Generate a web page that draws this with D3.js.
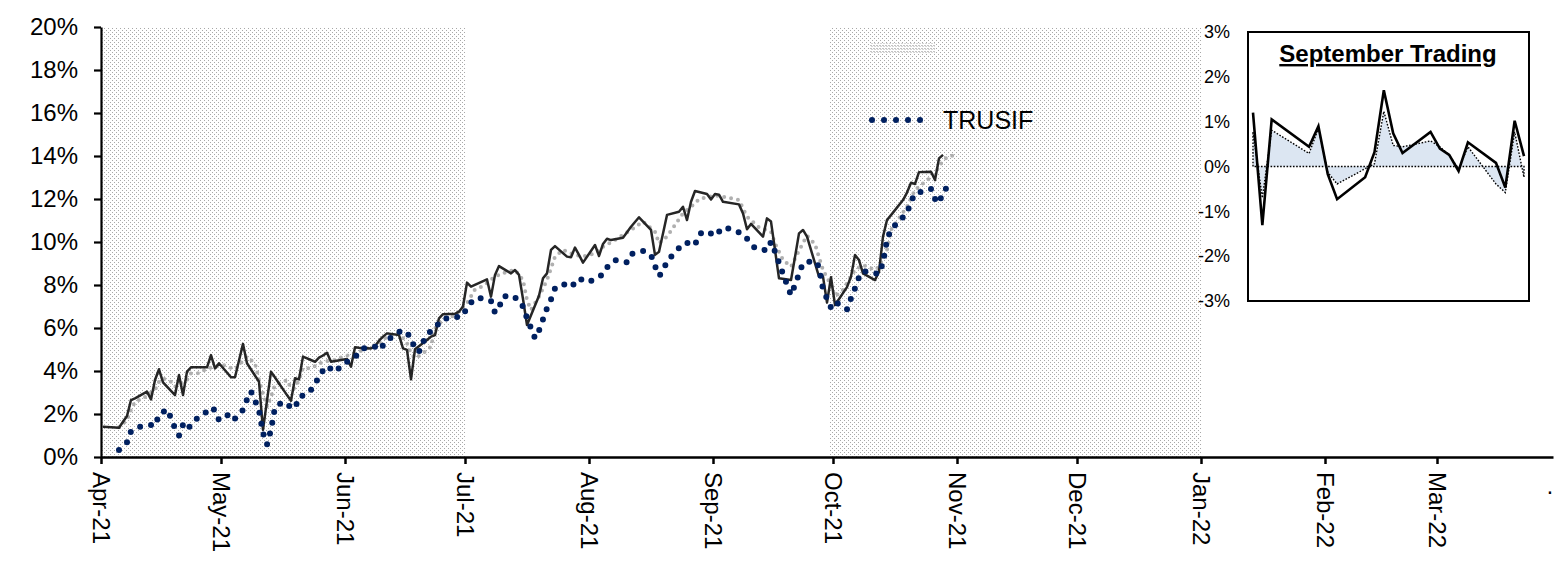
<!DOCTYPE html>
<html lang="en">
<head>
<meta charset="UTF-8">
<title>TRUSIF</title>
<style>
    body { margin: 0; background: #fff; }
    svg { display: block; font-family: "Liberation Sans", Arial, sans-serif; }
    .axis path, .axis line { stroke: #000; }
    .axis text { fill: #000; }
</style>
</head>
<body>
<svg width="1567" height="562"></svg>
<script src="https://d3js.org/d3.v7.min.js"></script>
<script>
// cumulative return, solid dark line (%)
var fundSeries = [
    ["2021-04-01",1.41],["2021-04-05",1.36],["2021-04-06",1.64],["2021-04-07",1.91],["2021-04-08",2.65],
    ["2021-04-09",2.73],["2021-04-12",3.04],["2021-04-13",2.68],["2021-04-14",3.58],["2021-04-15",4.08],
    ["2021-04-16",3.47],["2021-04-19",2.88],["2021-04-20",3.81],["2021-04-21",2.88],["2021-04-22",3.97],
    ["2021-04-23",4.17],["2021-04-26",4.17],["2021-04-27",4.17],["2021-04-28",4.74],["2021-04-29",4.12],
    ["2021-04-30",4.36],["2021-05-03",3.71],["2021-05-04",3.71],["2021-05-05",4.49],["2021-05-06",5.26],
    ["2021-05-07",4.36],["2021-05-10",3.50],["2021-05-11",1.26],["2021-05-12",2.62],["2021-05-13",3.97],
    ["2021-05-14",3.70],["2021-05-17",2.88],["2021-05-18",2.62],["2021-05-19",3.66],["2021-05-20",3.61],
    ["2021-05-21",4.67],["2021-05-24",4.43],["2021-05-25",4.62],["2021-05-26",4.72],["2021-05-27",4.85],
    ["2021-05-28",4.43],["2021-06-01",4.56],["2021-06-02",4.20],["2021-06-03",5.10],["2021-06-04",5.08],
    ["2021-06-07",5.05],["2021-06-08",5.15],["2021-06-09",5.41],["2021-06-10",5.60],["2021-06-11",5.75],
    ["2021-06-14",5.67],["2021-06-15",5.05],["2021-06-16",4.98],["2021-06-17",3.61],["2021-06-18",5.01],
    ["2021-06-21",5.44],["2021-06-22",5.60],["2021-06-23",5.67],["2021-06-24",6.45],["2021-06-25",6.64],
    ["2021-06-28",6.66],["2021-06-29",6.76],["2021-06-30",7.00],["2021-07-01",8.11],["2021-07-02",7.92],
    ["2021-07-06",8.26],["2021-07-07",7.46],["2021-07-08",8.47],["2021-07-09",8.88],["2021-07-12",8.54],
    ["2021-07-13",8.70],["2021-07-14",8.47],["2021-07-15",7.35],["2021-07-16",6.14],["2021-07-19",7.50],
    ["2021-07-20",8.31],["2021-07-21",8.54],["2021-07-22",9.63],["2021-07-23",9.81],["2021-07-26",9.32],
    ["2021-07-27",9.29],["2021-07-28",9.74],["2021-07-29",9.40],["2021-07-30",9.04],["2021-08-02",9.86],
    ["2021-08-03",9.35],["2021-08-04",9.91],["2021-08-05",10.15],["2021-08-06",10.09],["2021-08-09",10.20],
    ["2021-08-10",10.45],["2021-08-11",10.71],["2021-08-12",10.93],["2021-08-13",11.15],["2021-08-16",10.56],
    ["2021-08-17",9.40],["2021-08-18",9.55],["2021-08-19",10.40],["2021-08-20",11.26],["2021-08-23",11.41],
    ["2021-08-24",11.64],["2021-08-25",11.02],["2021-08-26",11.87],["2021-08-27",12.37],["2021-08-30",12.23],
    ["2021-08-31",11.98],["2021-09-01",12.23],["2021-09-02",12.20],["2021-09-03",11.87],["2021-09-07",11.75],
    ["2021-09-08",11.33],["2021-09-09",10.59],["2021-09-10",10.84],["2021-09-13",10.25],["2021-09-14",11.10],
    ["2021-09-15",10.95],["2021-09-16",9.63],["2021-09-17",8.31],["2021-09-20",8.23],["2021-09-21",9.30],
    ["2021-09-22",10.40],["2021-09-23",10.56],["2021-09-24",10.25],["2021-09-27",8.39],["2021-09-28",8.39],
    ["2021-09-29",7.18],["2021-09-30",8.36],["2021-10-01",7.07],["2021-10-04",7.90],["2021-10-05",8.39],
    ["2021-10-06",9.40],["2021-10-07",9.16],["2021-10-08",8.54],["2021-10-11",8.23],["2021-10-12",8.62],
    ["2021-10-13",10.25],["2021-10-14",11.02],["2021-10-15",11.25],["2021-10-18",11.95],["2021-10-19",12.30],
    ["2021-10-20",12.76],["2021-10-21",12.70],["2021-10-22",13.25],["2021-10-25",13.27],["2021-10-26",12.88],
    ["2021-10-27",13.89],["2021-10-28",14.05]
];

// light grey dotted series (%)
var indexSeries = [
    ["2021-04-05",1.38],["2021-04-07",1.72],["2021-04-08",2.19],["2021-04-09",2.57],["2021-04-11",2.73],
    ["2021-04-14",3.12],["2021-04-15",3.50],["2021-04-16",3.66],["2021-04-18",3.50],["2021-04-19",3.27],
    ["2021-04-22",3.58],["2021-04-23",3.89],["2021-04-25",3.89],["2021-04-27",4.12],["2021-04-29",4.20],
    ["2021-05-01",4.28],["2021-05-04",4.08],["2021-05-07",4.67],["2021-05-09",4.36],["2021-05-10",3.58],
    ["2021-05-11",2.96],["2021-05-12",2.34],["2021-05-13",2.81],["2021-05-14",3.35],["2021-05-17",3.58],
    ["2021-05-18",3.19],["2021-05-19",3.20],["2021-05-20",3.58],["2021-05-21",4.14],["2021-05-23",4.12],
    ["2021-05-26",4.43],["2021-05-29",4.51],["2021-05-31",4.67],["2021-06-03",4.82],["2021-06-06",5.05],
    ["2021-06-09",5.29],["2021-06-11",5.60],["2021-06-14",5.75],["2021-06-16",5.29],["2021-06-17",4.82],
    ["2021-06-18",4.59],["2021-06-20",4.82],["2021-06-22",5.13],["2021-06-23",5.99],["2021-06-25",6.37],
    ["2021-06-28",6.60],["2021-07-01",7.15],["2021-07-03",7.80],["2021-07-05",7.95],["2021-07-08",8.39],
    ["2021-07-11",8.62],["2021-07-13",8.70],["2021-07-15",8.23],["2021-07-16",7.30],["2021-07-17",6.84],
    ["2021-07-19",7.46],["2021-07-21",8.23],["2021-07-23",9.32],["2021-07-25",9.63],["2021-07-28",9.40],
    ["2021-07-30",9.32],["2021-08-02",9.47],["2021-08-04",9.78],["2021-08-07",10.09],["2021-08-11",10.56],
    ["2021-08-14",10.95],["2021-08-17",10.48],["2021-08-18",9.94],["2021-08-20",10.25],["2021-08-22",10.79],
    ["2021-08-24",11.33],["2021-08-27",11.80],["2021-08-28",12.00],["2021-09-01",12.17],["2021-09-05",12.03],
    ["2021-09-07",11.95],["2021-09-09",11.18],["2021-09-12",10.68],["2021-09-15",10.48],["2021-09-16",9.94],
    ["2021-09-18",9.16],["2021-09-20",8.85],["2021-09-22",9.60],["2021-09-24",10.30],["2021-09-26",9.90],
    ["2021-09-28",8.70],["2021-09-30",8.00],["2021-10-01",7.46],["2021-10-03",7.77],["2021-10-06",8.70],
    ["2021-10-08",8.93],["2021-10-11",8.70],["2021-10-12",8.85],["2021-10-14",9.63],["2021-10-15",10.56],
    ["2021-10-17",11.10],["2021-10-19",11.64],["2021-10-21",12.42],["2021-10-24",12.88],["2021-10-26",13.12],
    ["2021-10-27",13.55],["2021-10-29",13.95],["2021-10-31",14.05]
];

// TRUSIF, navy dots (%)
var trusifSeries = [
    ["2021-04-05",0.33],["2021-04-07",0.68],["2021-04-08",1.19],["2021-04-10",1.40],["2021-04-13",1.49],
    ["2021-04-14",1.44],["2021-04-15",1.96],["2021-04-17",2.22],["2021-04-18",1.81],["2021-04-19",1.33],
    ["2021-04-20",0.99],["2021-04-21",1.50],["2021-04-22",1.26],["2021-04-24",1.73],["2021-04-26",1.95],
    ["2021-04-28",2.31],["2021-04-29",2.17],["2021-04-30",1.71],["2021-05-03",2.04],["2021-05-04",1.78],
    ["2021-05-06",2.19],["2021-05-07",2.67],["2021-05-08",3.05],["2021-05-09",2.63],["2021-05-10",2.17],
    ["2021-05-11",1.12],["2021-05-12",0.58],["2021-05-13",1.26],["2021-05-14",2.31],["2021-05-16",2.57],
    ["2021-05-18",2.32],["2021-05-19",2.26],["2021-05-20",2.79],["2021-05-22",2.92],["2021-05-24",3.33],
    ["2021-05-25",3.79],["2021-05-27",4.23],["2021-05-29",3.95],["2021-05-31",4.32],["2021-06-03",4.65],
    ["2021-06-05",5.05],["2021-06-08",5.13],["2021-06-09",4.97],["2021-06-11",5.40],["2021-06-13",5.72],
    ["2021-06-15",5.90],["2021-06-17",5.58],["2021-06-18",4.98],["2021-06-19",4.90],["2021-06-20",5.35],
    ["2021-06-22",5.89],["2021-06-23",6.02],["2021-06-25",6.43],["2021-06-27",6.45],["2021-06-30",6.57],
    ["2021-07-01",6.97],["2021-07-03",7.38],["2021-07-05",7.38],["2021-07-07",7.26],["2021-07-08",6.71],
    ["2021-07-09",6.94],["2021-07-10",7.46],["2021-07-12",7.53],["2021-07-14",7.30],["2021-07-15",6.99],
    ["2021-07-16",6.45],["2021-07-17",5.99],["2021-07-18",5.52],["2021-07-19",5.88],["2021-07-20",6.40],
    ["2021-07-21",6.92],["2021-07-22",7.33],["2021-07-23",7.84],["2021-07-25",8.05],["2021-07-27",7.89],
    ["2021-07-29",8.31],["2021-07-31",8.12],["2021-08-02",8.26],["2021-08-04",8.50],["2021-08-05",8.82],
    ["2021-08-07",9.16],["2021-08-10",9.06],["2021-08-11",9.44],["2021-08-14",9.58],["2021-08-16",9.40],
    ["2021-08-17",8.88],["2021-08-18",8.42],["2021-08-19",8.62],["2021-08-20",9.13],["2021-08-22",9.50],
    ["2021-08-24",9.94],["2021-08-26",9.97],["2021-08-27",9.86],["2021-08-28",10.37],["2021-08-30",10.51],
    ["2021-09-01",10.28],["2021-09-03",10.68],["2021-09-05",10.60],["2021-09-08",10.37],["2021-09-10",9.94],
    ["2021-09-11",9.71],["2021-09-13",9.64],["2021-09-14",9.60],["2021-09-15",10.01],["2021-09-16",9.55],
    ["2021-09-17",9.04],["2021-09-18",8.51],["2021-09-19",8.02],["2021-09-20",7.53],["2021-09-21",8.00],
    ["2021-09-22",8.51],["2021-09-23",9.03],["2021-09-26",9.12],["2021-09-27",8.85],["2021-09-28",7.79],
    ["2021-09-30",6.95],["2021-10-01",7.22],["2021-10-03",6.99],["2021-10-04",6.87],["2021-10-05",7.38],
    ["2021-10-06",7.85],["2021-10-07",8.36],["2021-10-08",8.65],["2021-10-12",8.51],["2021-10-13",9.04],
    ["2021-10-14",10.09],["2021-10-15",10.60],["2021-10-17",10.95],["2021-10-19",11.36],["2021-10-20",11.87],
    ["2021-10-21",12.26],["2021-10-24",12.39],["2021-10-25",12.47],["2021-10-26",12.00],["2021-10-27",11.80],
    ["2021-10-28",12.31],["2021-10-29",12.54]
];

// inset: daily moves in September (%)
var sepDates = ["2021-09-01","2021-09-02","2021-09-03","2021-09-07","2021-09-08","2021-09-09","2021-09-10",
    "2021-09-13","2021-09-14","2021-09-15","2021-09-16","2021-09-17","2021-09-20","2021-09-21","2021-09-22",
    "2021-09-23","2021-09-24","2021-09-27","2021-09-28","2021-09-29","2021-09-30"];
var sepFund = [1.20,-1.31,1.05,0.44,0.90,-0.17,-0.73,-0.24,0.32,1.70,0.74,0.30,0.77,0.40,0.26,-0.10,0.54,0.08,-0.47,1.02,0.23];
var sepIndex = [0.77,-0.70,0.81,0.29,0.85,-0.13,-0.39,-0.05,0.06,1.23,0.47,0.44,0.57,0.44,0.25,-0.05,0.44,-0.39,-0.58,0.77,-0.24];

var yTicks = [0,2,4,6,8,10,12,14,16,18,20];
var insetTicks = [-3,-2,-1,0,1,2,3];
var monthDates = ["2021-04-01","2021-05-01","2021-06-01","2021-07-01","2021-08-01","2021-09-01",
    "2021-10-01","2021-11-01","2021-12-01","2022-01-01","2022-02-01","2022-03-01"];
var monthLabels = ["Apr-21","May-21","Jun-21","Jul-21","Aug-21","Sep-21","Oct-21","Nov-21","Dec-21",
    "Jan-22","Feb-22","Mar-22"];
var axisStart = "2021-04-01", axisEnd = "2022-03-30";
var shadeStarts = ["2021-04-01","2021-09-30"];
var shadeEnds = ["2021-07-01","2022-01-01"];

var svg = d3.select("svg");
var parse = d3.timeParse("%Y-%m-%d");
// points sit in the middle of their day slot
function mid(s) { return d3.timeHour.offset(parse(s), 12); }

var x = d3.scaleTime().domain([parse(axisStart), parse(axisEnd)]).range([101, 1553]);
var y = d3.scaleLinear().domain([0, 20]).range([457, 27]);

// dotted fill for the shaded quarters
var defs = svg.append("defs");
var pat = defs.append("pattern").attr("id", "dots")
    .attr("patternUnits", "userSpaceOnUse").attr("width", 4).attr("height", 4);
pat.append("rect").attr("width", 4).attr("height", 4).attr("fill", "#fff");
pat.append("rect").attr("x", 0).attr("y", 0).attr("width", 1).attr("height", 1).attr("fill", "#a8a8a8");
pat.append("rect").attr("x", 2).attr("y", 2).attr("width", 1).attr("height", 1).attr("fill", "#a8a8a8");

var pat2 = defs.append("pattern").attr("id", "faint")
    .attr("patternUnits", "userSpaceOnUse").attr("width", 3).attr("height", 3);
pat2.append("rect").attr("width", 3).attr("height", 3).attr("fill", "#fff");
pat2.append("rect").attr("width", 2).attr("height", 1).attr("fill", "#c4c4c4");
pat2.append("rect").attr("x", 1).attr("y", 1).attr("width", 2).attr("height", 1).attr("fill", "#d6d6d6");

svg.selectAll(".shade")
    .data(shadeStarts)
    .enter().append("rect")
    .attr("class", "shade")
    .attr("x", function (d) { return x(parse(d)); })
    .attr("y", y(20))
    .attr("width", function (d, i) { return x(parse(shadeEnds[i])) - x(parse(d)); })
    .attr("height", y(0) - y(20))
    .attr("fill", "url(#dots)");

var line = d3.line()
    .x(function (d) { return x(mid(d[0])); })
    .y(function (d) { return y(d[1]); });

svg.append("path").datum(indexSeries)
    .attr("d", line)
    .attr("fill", "none")
    .attr("stroke", "#b0b0b0")
    .attr("stroke-width", 4)
    .attr("stroke-linecap", "round")
    .attr("stroke-dasharray", "0 7");

svg.append("path").datum(fundSeries)
    .attr("d", line)
    .attr("fill", "none")
    .attr("stroke", "#262626")
    .attr("stroke-width", 2.5)
    .attr("stroke-linejoin", "round");

svg.append("path").datum(trusifSeries)
    .attr("d", line)
    .attr("fill", "none")
    .attr("stroke", "#002060")
    .attr("stroke-width", 6)
    .attr("stroke-linecap", "round")
    .attr("stroke-dasharray", "0 11");

// axes
var gy = svg.append("g").attr("class", "axis")
    .attr("transform", "translate(101,0)")
    .call(d3.axisLeft(y).tickValues(yTicks).tickSize(7).tickSizeOuter(0).tickPadding(16)
        .tickFormat(function (d) { return d + "%"; }));
gy.selectAll("path, line").attr("stroke-width", 2.2);
gy.selectAll("text").attr("font-size", 24).attr("font-family", null);

var gx = svg.append("g").attr("class", "axis")
    .attr("transform", "translate(0,457)")
    .call(d3.axisBottom(x).tickValues(monthDates.map(parse)).tickSize(7).tickSizeOuter(0)
        .tickFormat(function (d, i) { return monthLabels[i]; }));
gx.selectAll("path, line").attr("stroke-width", 2.5);
gx.selectAll("text")
    .attr("font-size", 24).attr("font-family", null)
    .attr("transform", "rotate(90)")
    .attr("x", 15).attr("y", 0).attr("dy", "0.35em")
    .style("text-anchor", "start");
svg.append("text")
    .attr("x", x(parse(axisEnd)) - 3).attr("y", 494)
    .attr("font-size", 23).attr("text-anchor", "middle")
    .text(".");

// legend
svg.append("rect").attr("x", 870).attr("y", 43).attr("width", 65).attr("height", 11)
    .attr("fill", "url(#faint)");
svg.append("line")
    .attr("x1", 872).attr("x2", 932).attr("y1", 120).attr("y2", 120)
    .attr("stroke", "#002060").attr("stroke-width", 6)
    .attr("stroke-linecap", "round").attr("stroke-dasharray", "0 12");
svg.append("text").attr("x", 943).attr("y", 120).attr("dy", "0.35em")
    .attr("font-size", 25).text("TRUSIF");

// inset: September Trading
var ix = d3.scaleTime().domain([parse("2021-09-01"), parse("2021-09-30")]).range([1253, 1524]);
var iy = d3.scaleLinear().domain([-3, 3]).range([301, 32]);

svg.append("rect").attr("x", 1248).attr("y", 32).attr("width", 281).attr("height", 269)
    .attr("fill", "#fff").attr("stroke", "#000").attr("stroke-width", 2);

var area = d3.area()
    .x(function (d, i) { return ix(parse(sepDates[i])); })
    .y0(iy(0))
    .y1(function (d) { return iy(d); });
svg.append("path").datum(sepIndex).attr("d", area).attr("fill", "#dce6f2");
svg.append("path").datum(sepIndex).attr("d", area)
    .attr("fill", "none").attr("stroke", "#000").attr("stroke-width", 1.4)
    .attr("stroke-dasharray", "1.6 1.6");

var iline = d3.line()
    .x(function (d, i) { return ix(parse(sepDates[i])); })
    .y(function (d) { return iy(d); });
svg.append("path").datum(sepFund).attr("d", iline)
    .attr("fill", "none").attr("stroke", "#000").attr("stroke-width", 2.6)
    .attr("stroke-linejoin", "miter");

var gi = svg.append("g").attr("class", "axis")
    .attr("transform", "translate(1248,0)")
    .call(d3.axisLeft(iy).tickValues(insetTicks).tickSize(0).tickPadding(18)
        .tickFormat(function (d) { return d + "%"; }));
gi.select(".domain").remove();
gi.selectAll("text").attr("font-size", 18).attr("font-family", null);

svg.append("text")
    .attr("x", 1388).attr("y", 62)
    .attr("text-anchor", "middle")
    .attr("font-size", 24).attr("font-weight", "bold")
    .style("text-decoration", "underline")
    .text("September Trading");
</script>
</body>
</html>
